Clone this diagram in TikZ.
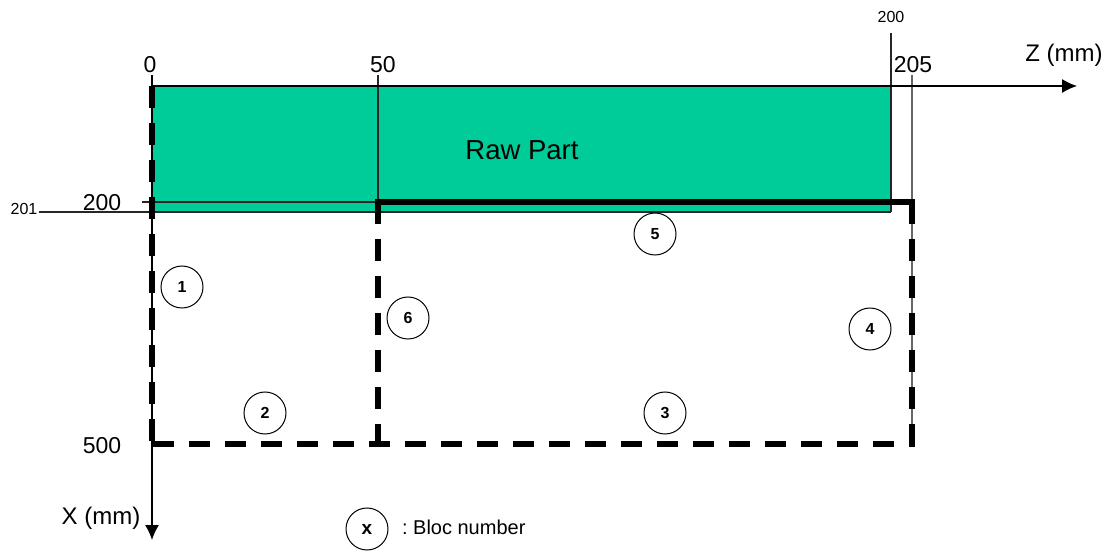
\documentclass[tikz,border=0pt]{standalone}
\usepackage{fontspec}
\setmainfont{Liberation Sans}
\usetikzlibrary{arrows.meta}
\definecolor{rawgreen}{HTML}{00CC99}
\tikzset{axis/.style={line width=1.3pt, -{Latex[length=15pt, width=14pt]}}}
\tikzset{guide/.style={line width=1.3pt, black!85}}
\tikzset{toolpath/.style={line width=6pt, dash pattern=on 22pt off 15pt}}
\tikzset{basepath/.style={line width=6pt, dash pattern=on 21pt off 15pt}}
\tikzset{finish/.style={line width=6pt, line cap=rect}}
\tikzset{bloc/.style={draw, circle, line width=1pt, minimum size=42pt, inner sep=0pt, font=\fontsize{16}{16}\selectfont\bfseries}}
\tikzset{dim/.style={font=\fontsize{23}{23}\selectfont, inner sep=0pt}}
\tikzset{axislab/.style={font=\fontsize{24}{24}\selectfont, inner sep=0pt}}
\tikzset{smalldim/.style={font=\fontsize{16}{16}\selectfont, inner sep=0pt}}

\begin{document}
\begin{tikzpicture}[x=1pt, y=-1pt]
            \useasboundingbox (0, 0) rectangle (1112, 553);
            \coordinate (origin) at (152, 86);
            \coordinate (zend) at (1077, 86);
            \coordinate (xtop) at (152, 75);
            \coordinate (xend) at (152, 540);
            \coordinate (rawcorner) at (891, 212);
            \coordinate (tick) at (142, 202);
            \coordinate (stepin) at (378, 202);
            \coordinate (stepout) at (912, 202);
            \coordinate (leftend) at (152, 443);
            \coordinate (baseleft) at (153, 444);
            \coordinate (basemid) at (378, 444);
            \coordinate (baseend) at (915, 444);
            \coordinate (rightend) at (912, 446);
            \coordinate (top50) at (378, 75);
            \coordinate (top200) at (891, 33);
            \coordinate (top205) at (912, 75);
            \coordinate (left201) at (39, 212);

            \fill[rawgreen] (origin) rectangle (rawcorner);

            \draw[guide] (top50) -- (stepin);
            \draw[guide] (top200) -- (rawcorner);
            \draw[guide, black!60] (top205) -- (rightend);
            \draw[guide] (tick) -- (stepin);
            \draw[guide] (left201) -- (rawcorner);
            \draw[axis] (origin) -- (zend);
            \draw[axis] (xtop) -- (xend);

            \draw[toolpath] (origin) -- (leftend);
            \draw[basepath] (baseleft) -- (baseend);
            \draw[toolpath] (stepin) -- (basemid);
            \draw[toolpath] (stepout) -- (rightend);
            \draw[finish] (stepin) -- (stepout);

            \node[dim] (lab0) at (150, 65) {0};
            \node[dim] (lab50) at (383, 65) {50};
            \node[dim] (lab205) at (913, 65) {205};
            \node[axislab] (labz) at (1064, 55) {Z (mm)};
            \node[axislab] (labx) at (101, 518) {X (mm)};
            \node[dim] (lab200) at (102, 203) {200};
            \node[dim] (lab500) at (102, 446) {500};
            \node[smalldim] (top200lab) at (891, 17) {200};
            \node[smalldim] (lab201) at (24, 209) {201};
            \node[font=\fontsize{27.5}{27.5}\selectfont, inner sep=0pt] (rawlab) at (522, 150) {Raw Part};

            \foreach \n/\px/\py in {1/182/287, 2/265/413, 3/665/413, 4/870/329, 5/655/234, 6/408/318} {
                \node[bloc] (bloc\n) at (\px, \py) {\n};
            }
            \node[bloc, font=\fontsize{19}{19}\selectfont\bfseries] (blocx) at (367, 529) {x};
            \node[font=\fontsize{20}{20}\selectfont, inner sep=0pt, anchor=west] (legend) at (402, 527) {:\kern-2pt{} Bloc number};
        \end{tikzpicture}
\end{document}
